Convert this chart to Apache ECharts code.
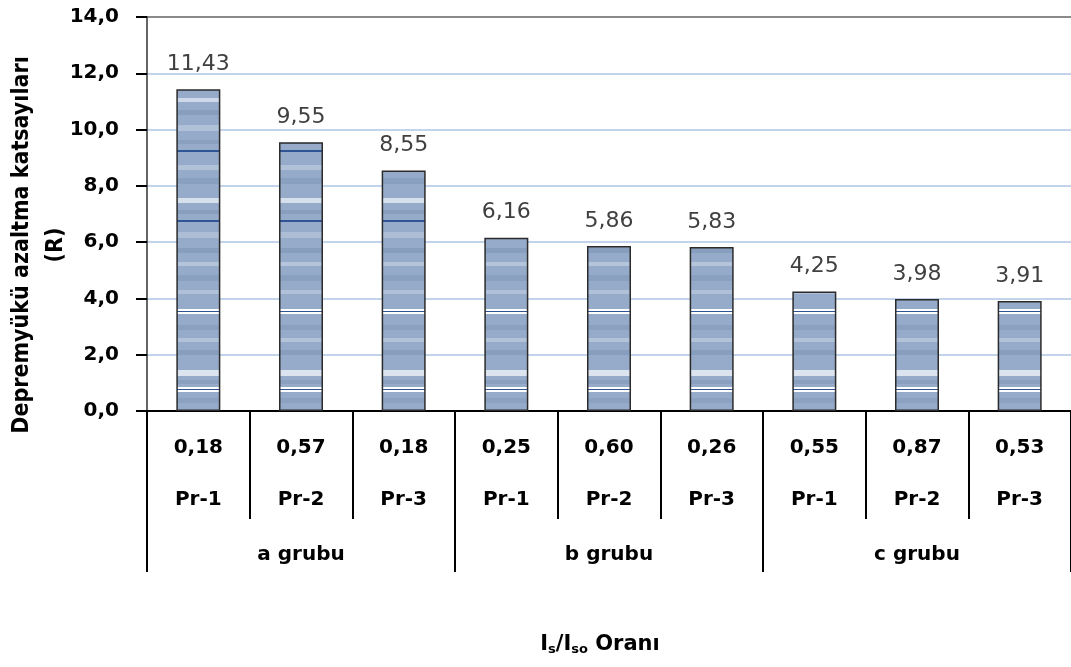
<!DOCTYPE html>
<html>
<head>
<meta charset="utf-8">
<script src="https://cdn.jsdelivr.net/npm/echarts@6/dist/echarts.min.js"></script>
<style>
html,body{margin:0;padding:0;background:#fff;}
#chart{width:1071px;height:667px;}
</style>
</head>
<body>
<div id="chart"></div>
<script>
// ---- data ----
const ratios   = ['0,18','0,57','0,18','0,25','0,60','0,26','0,55','0,87','0,53'];
const profiles = ['Pr-1','Pr-2','Pr-3','Pr-1','Pr-2','Pr-3','Pr-1','Pr-2','Pr-3'];
const groups   = ['a grubu','b grubu','c grubu'];
const rValues  = [11.43, 9.55, 8.55, 6.16, 5.86, 5.83, 4.25, 3.98, 3.91];
const yTicks   = [0, 2, 4, 6, 8, 10, 12, 14];

// ---- bar fill pattern (style only) ----
function makePattern(){
  const c = document.createElement('canvas');
  c.width = 8; c.height = 440;
  const g = c.getContext('2d');
  g.fillStyle = 'rgb(150,171,201)';
  g.fillRect(0,0,8,440);
  const bands = [
    [98,4,'rgb(205,216,232)'],[110,5,'rgb(136,158,191)'],[125,6,'rgb(175,192,216)'],
    [140,4,'rgb(138,160,192)'],[150,2,'rgb(47,85,151)'],[165,5,'rgb(176,193,216)'],
    [178,6,'rgb(138,160,192)'],[198,5,'rgb(214,223,236)'],[210,4,'rgb(136,158,191)'],
    [220,2,'rgb(47,85,151)'],[232,6,'rgb(172,189,213)'],[248,5,'rgb(136,158,191)'],
    [262,4,'rgb(180,196,219)'],[275,6,'rgb(138,160,192)'],[290,4,'rgb(175,192,216)'],
    [309,2,'rgb(255,255,255)'],[311,1,'rgb(47,85,151)'],[312,2,'rgb(255,255,255)'],
    [325,5,'rgb(138,160,192)'],[338,4,'rgb(178,194,217)'],[350,5,'rgb(136,158,191)'],
    [370,6,'rgb(220,228,240)'],[380,4,'rgb(138,160,192)'],
    [387,2,'rgb(255,255,255)'],[389,1,'rgb(47,85,151)'],[390,2,'rgb(255,255,255)'],
    [398,5,'rgb(140,162,194)']
  ];
  bands.forEach(b => { g.fillStyle = b[2]; g.fillRect(0,b[0],8,b[1]); });
  return c;
}

const chart = echarts.init(document.getElementById('chart'), null, {renderer:'canvas'});
const boldFont = '"DejaVu Sans", "Liberation Sans", sans-serif';
const gridColors = yTicks.map((v,i) => i === yTicks.length-1 ? '#8a8a8a' : '#c2d4ec');

const option = {
  animation: false,
  backgroundColor: '#ffffff',
  grid: { left: 147, top: 17, width: 930, bottom: 256, containLabel: false },
  xAxis: [
    {
      type: 'category', data: ratios, position: 'bottom', offset: 0,
      boundaryGap: true,
      axisLine: { show: true, lineStyle: { color: '#000', width: 2 } },
      axisTick: { show: true, interval: 0, length: 108, lineStyle: { color: '#000', width: 2 } },
      axisLabel: { interval: 0, margin: 25, fontFamily: boldFont, fontWeight: 'bold', fontSize: 20, lineHeight: 24, color: '#000' },
      splitLine: { show: false }
    },
    {
      type: 'category', data: profiles, position: 'bottom', offset: 0,
      boundaryGap: true,
      axisLine: { show: false }, axisTick: { show: false },
      axisLabel: { interval: 0, margin: 77, fontFamily: boldFont, fontWeight: 'bold', fontSize: 20, lineHeight: 24, color: '#000' },
      splitLine: { show: false }
    },
    {
      type: 'category', data: groups, position: 'bottom', offset: 0,
      boundaryGap: true,
      axisLine: { show: false },
      axisTick: { show: true, interval: 0, length: 161, lineStyle: { color: '#000', width: 2 } },
      axisLabel: { interval: 0, margin: 132, fontFamily: boldFont, fontWeight: 'bold', fontSize: 20, lineHeight: 24, color: '#000' },
      splitLine: { show: false }
    }
  ],
  yAxis: {
    type: 'value', min: yTicks[0], max: yTicks[yTicks.length-1], interval: 2,
    axisLine: { show: true, lineStyle: { color: '#333', width: 1.5 } },
    axisTick: { show: true, length: 11, lineStyle: { color: '#000', width: 2 } },
    axisLabel: {
      margin: 28, fontFamily: boldFont, fontWeight: 'bold', fontSize: 20, color: '#000',
      formatter: v => v.toFixed(1).replace('.', ',')
    },
    splitLine: { show: true, lineStyle: { color: gridColors, width: 2 } }
  },
  series: [{
    type: 'bar',
    xAxisIndex: 0,
    data: rValues,
    barWidth: 44,
    itemStyle: {
      color: { image: makePattern(), repeat: 'repeat' },
      borderColor: '#2b2b2b', borderWidth: 1.5
    },
    label: {
      show: true, position: 'top', distance: 14,
      fontFamily: '"DejaVu Sans", sans-serif', fontSize: 22, color: '#404040',
      formatter: p => p.value.toFixed(2).replace('.', ',')
    }
  }],
  graphic: [
    {
      type: 'text', x: 39, y: 245, rotation: Math.PI / 2,
      style: {
        text: 'Depremyükü azaltma katsayıları\n(R)',
        font: 'bold 23px "DejaVu Sans Condensed", "DejaVu Sans", sans-serif',
        fill: '#000', align: 'center', verticalAlign: 'middle', lineHeight: 34
      }
    },
    {
      type: 'text', x: 600, y: 645,
      style: {
        text: '{m|I}{s|s}{m|/I}{s|so}{m| Oranı}',
        align: 'center', verticalAlign: 'middle',
        rich: {
          m: { fontFamily: boldFont, fontWeight: 'bold', fontSize: 21, fill: '#000', color: '#000', verticalAlign: 'middle' },
          s: { fontFamily: boldFont, fontWeight: 'bold', fontSize: 13, fill: '#000', color: '#000', padding: [10, 0, 0, 0], verticalAlign: 'bottom' }
        }
      }
    }
  ]
};
chart.setOption(option);
</script>
</body>
</html>
